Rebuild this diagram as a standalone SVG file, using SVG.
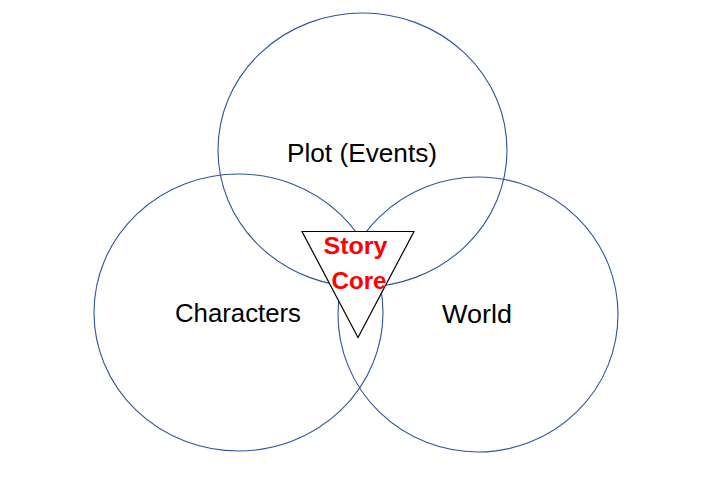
<svg xmlns="http://www.w3.org/2000/svg" width="714" height="482" viewBox="0 0 714 482">
<style>
.c{fill:none;stroke:#2F5597;stroke-width:1.1}
.t{font-family:"Liberation Sans",Arial,sans-serif;font-size:25px;fill:#000;text-anchor:middle}
.core{font-family:"Liberation Sans",Arial,sans-serif;font-size:24px;font-weight:bold;fill:#FF0000;text-anchor:middle}
</style>
<rect width="714" height="482" fill="#fff"/>
<g id="plot"><ellipse class="c" cx="362.5" cy="150" rx="144.5" ry="137"/><text class="t" x="362" y="162" textLength="150" lengthAdjust="spacingAndGlyphs">Plot (Events)</text></g>
<g id="characters"><ellipse class="c" cx="238.5" cy="312.5" rx="144.5" ry="138.5"/><text class="t" x="238" y="322" textLength="126" lengthAdjust="spacingAndGlyphs">Characters</text></g>
<g id="world"><ellipse class="c" cx="478" cy="314.5" rx="140" ry="137.5"/><text class="t" x="477" y="323" textLength="70" lengthAdjust="spacingAndGlyphs">World</text></g>
<g id="core"><polygon points="302,231.5 414,231.5 358,337.5" fill="#fff" stroke="#000" stroke-width="1.2"/><text class="core" x="355.5" y="254" textLength="64" lengthAdjust="spacingAndGlyphs">Story</text><text class="core" x="359" y="289" textLength="55" lengthAdjust="spacingAndGlyphs">Core</text></g>
<g id="connectors"></g>
</svg>
